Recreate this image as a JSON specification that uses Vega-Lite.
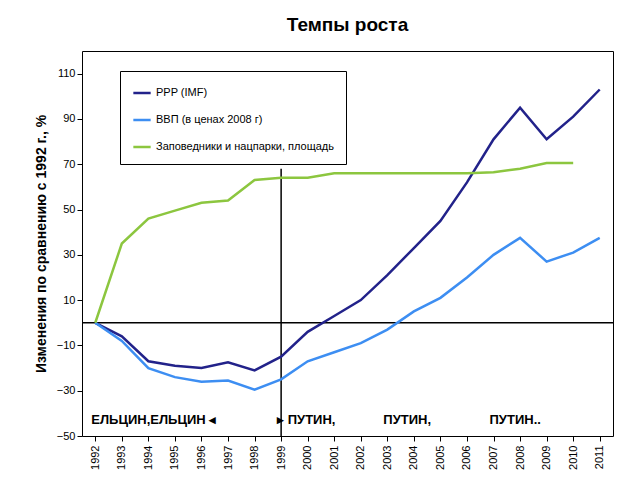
{
"$schema":"https://vega.github.io/schema/vega-lite/v6.json",
"width":531,"height":385,
"autosize":{"type":"none"},
"padding":{"left":82,"top":51,"right":16,"bottom":44},
"background":"white",
"title":{"text":"Темпы роста","fontSize":19,"fontWeight":"bold","font":"Liberation Sans","offset":16,"color":"black"},
"config":{"font":"Liberation Sans","view":{"stroke":"black","strokeWidth":1}},
"datasets":{
"lines":[
{"year":"1992","s":"PPP (IMF)","v":0},{"year":"1993","s":"PPP (IMF)","v":-6},{"year":"1994","s":"PPP (IMF)","v":-17},{"year":"1995","s":"PPP (IMF)","v":-19},{"year":"1996","s":"PPP (IMF)","v":-20},{"year":"1997","s":"PPP (IMF)","v":-17.5},{"year":"1998","s":"PPP (IMF)","v":-21},{"year":"1999","s":"PPP (IMF)","v":-15},{"year":"2000","s":"PPP (IMF)","v":-4},{"year":"2001","s":"PPP (IMF)","v":3},{"year":"2002","s":"PPP (IMF)","v":10},{"year":"2003","s":"PPP (IMF)","v":21},{"year":"2004","s":"PPP (IMF)","v":33},{"year":"2005","s":"PPP (IMF)","v":45},{"year":"2006","s":"PPP (IMF)","v":62},{"year":"2007","s":"PPP (IMF)","v":81},{"year":"2008","s":"PPP (IMF)","v":95},{"year":"2009","s":"PPP (IMF)","v":81},{"year":"2010","s":"PPP (IMF)","v":91},{"year":"2011","s":"PPP (IMF)","v":103},
{"year":"1992","s":"ВВП (в ценах 2008 г)","v":0},{"year":"1993","s":"ВВП (в ценах 2008 г)","v":-8},{"year":"1994","s":"ВВП (в ценах 2008 г)","v":-20},{"year":"1995","s":"ВВП (в ценах 2008 г)","v":-24},{"year":"1996","s":"ВВП (в ценах 2008 г)","v":-26},{"year":"1997","s":"ВВП (в ценах 2008 г)","v":-25.5},{"year":"1998","s":"ВВП (в ценах 2008 г)","v":-29.5},{"year":"1999","s":"ВВП (в ценах 2008 г)","v":-25},{"year":"2000","s":"ВВП (в ценах 2008 г)","v":-17},{"year":"2001","s":"ВВП (в ценах 2008 г)","v":-13},{"year":"2002","s":"ВВП (в ценах 2008 г)","v":-9},{"year":"2003","s":"ВВП (в ценах 2008 г)","v":-3},{"year":"2004","s":"ВВП (в ценах 2008 г)","v":5},{"year":"2005","s":"ВВП (в ценах 2008 г)","v":11},{"year":"2006","s":"ВВП (в ценах 2008 г)","v":20},{"year":"2007","s":"ВВП (в ценах 2008 г)","v":30},{"year":"2008","s":"ВВП (в ценах 2008 г)","v":37.5},{"year":"2009","s":"ВВП (в ценах 2008 г)","v":27},{"year":"2010","s":"ВВП (в ценах 2008 г)","v":31},{"year":"2011","s":"ВВП (в ценах 2008 г)","v":37.5},
{"year":"1992","s":"Заповедники и нацпарки, площадь","v":0},{"year":"1993","s":"Заповедники и нацпарки, площадь","v":35},{"year":"1994","s":"Заповедники и нацпарки, площадь","v":46},{"year":"1995","s":"Заповедники и нацпарки, площадь","v":49.5},{"year":"1996","s":"Заповедники и нацпарки, площадь","v":53},{"year":"1997","s":"Заповедники и нацпарки, площадь","v":54},{"year":"1998","s":"Заповедники и нацпарки, площадь","v":63},{"year":"1999","s":"Заповедники и нацпарки, площадь","v":64},{"year":"2000","s":"Заповедники и нацпарки, площадь","v":64},{"year":"2001","s":"Заповедники и нацпарки, площадь","v":66},{"year":"2002","s":"Заповедники и нацпарки, площадь","v":66},{"year":"2003","s":"Заповедники и нацпарки, площадь","v":66},{"year":"2004","s":"Заповедники и нацпарки, площадь","v":66},{"year":"2005","s":"Заповедники и нацпарки, площадь","v":66},{"year":"2006","s":"Заповедники и нацпарки, площадь","v":66},{"year":"2007","s":"Заповедники и нацпарки, площадь","v":66.5},{"year":"2008","s":"Заповедники и нацпарки, площадь","v":68},{"year":"2009","s":"Заповедники и нацпарки, площадь","v":70.5},{"year":"2010","s":"Заповедники и нацпарки, площадь","v":70.5}
],
"labels":[
{"year":"1992","v":-43,"t":"ЕЛЬЦИН,ЕЛЬЦИН ◂"},
{"year":"1999","v":-43,"t":" ▸ ПУТИН,"},
{"year":"2003","v":-43,"t":"ПУТИН,"},
{"year":"2007","v":-43,"t":"ПУТИН.."}
]
},
"layer":[
{"data":{"values":[{"v":0}]},"mark":{"type":"rule","color":"black","strokeWidth":1.5},"encoding":{"y":{"field":"v","type":"quantitative"}}},
{"data":{"values":[{"year":"1999","a":68,"b":-50}]},"mark":{"type":"rule","color":"black","strokeWidth":1.5},"encoding":{"x":{"field":"year","type":"ordinal"},"y":{"field":"a","type":"quantitative"},"y2":{"field":"b"}}},
{"data":{"name":"lines"},"mark":{"type":"line","strokeWidth":2.5},
"encoding":{
"x":{"field":"year","type":"ordinal","scale":{"type":"point","padding":0.5,"domain":["1992","1993","1994","1995","1996","1997","1998","1999","2000","2001","2002","2003","2004","2005","2006","2007","2008","2009","2010","2011"]},"axis":{"title":null,"labelAngle":-90,"labelFontSize":11,"labelColor":"black","domain":false,"tickColor":"black","labelPadding":4}},
"y":{"field":"v","type":"quantitative","scale":{"domain":[-50,120],"nice":false},"axis":{"title":"Изменения по сравнению с 1992 г., %","titleFontSize":14,"titleFontWeight":"bold","titleColor":"black","values":[-50,-40,-30,-20,-10,0,10,20,30,40,50,60,70,80,90,100,110,120],"labelOverlap":false,"labelFlush":false,"grid":false,"domain":false,"labelFontSize":11,"labelColor":"black","tickColor":"black","titlePadding":8}},
"color":{"field":"s","type":"nominal","scale":{"domain":["PPP (IMF)","ВВП (в ценах 2008 г)","Заповедники и нацпарки, площадь"],"range":["#22228a","#3d8ef2","#8cc63f"]},
"legend":{"title":null,"orient":"none","legendX":38,"legendY":20,"symbolType":"stroke","symbolSize":300,"symbolStrokeWidth":2.5,"labelFontSize":11,"labelColor":"black","rowPadding":12,"padding":12,"strokeColor":"black","fillColor":"white","labelLimit":300}}
}},
{"data":{"name":"labels"},"mark":{"type":"text","align":"left","fontSize":13,"fontWeight":"bold","color":"black","dx":-4},
"encoding":{"x":{"field":"year","type":"ordinal"},"y":{"field":"v","type":"quantitative"},"text":{"field":"t"}}}
]
}
